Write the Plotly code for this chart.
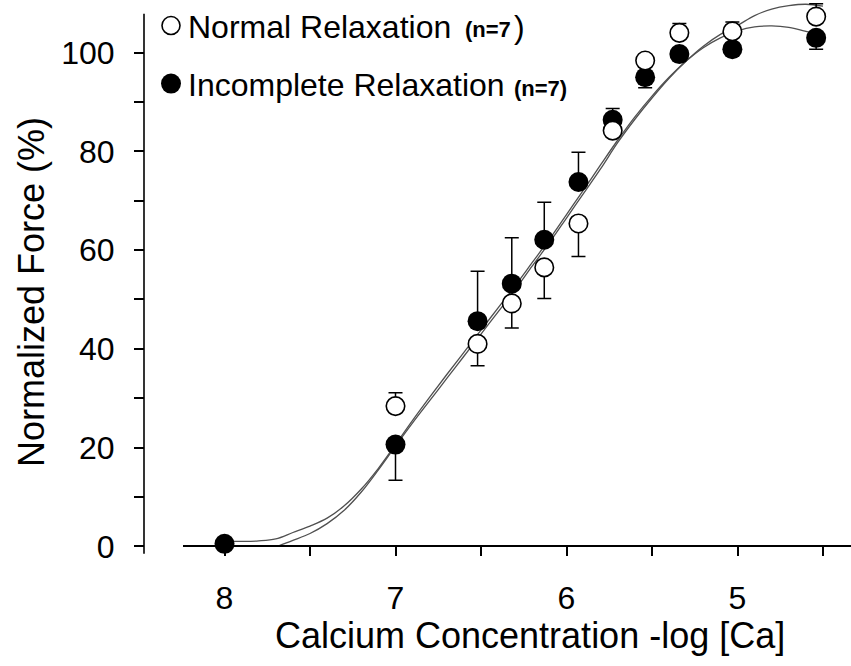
import plotly.graph_objects as go

# ---------------- data ----------------
normal_x = [7.0, 6.52, 6.32, 6.13, 5.93, 5.73, 5.54, 5.34, 5.03, 4.54]
normal_y = [28.4, 41.0, 49.2, 56.5, 65.4, 84.2, 98.4, 104.0, 104.3, 107.3]
normal_err_up = [2.7, 0, 0, 0, 0, 0, 0, 1.9, 1.9, 2.6]
normal_err_dn = [0, 4.4, 5.0, 6.3, 6.7, 0, 0, 0, 0, 0]

incomplete_x = [8.0, 7.0, 6.52, 6.32, 6.13, 5.93, 5.73, 5.54, 5.34, 5.03, 4.54]
incomplete_y = [0.5, 20.6, 45.6, 53.2, 62.1, 73.8, 86.4, 95.0, 99.7, 100.7, 103.0]
incomplete_err_up = [0, 0, 10.1, 9.3, 7.6, 6.0, 2.3, 0, 0, 0, 0]
incomplete_err_dn = [0, 7.2, 0, 0, 0, 0, 0, 2.1, 0, 0, 2.3]

# fitted curves
normal_fit_x = [7.69, 7.6, 7.5, 7.4, 7.3, 7.2, 7.1, 7.0, 6.9, 6.8, 6.7, 6.6, 6.5, 6.4,
                6.3, 6.2, 6.1, 6.0, 5.9, 5.8, 5.7, 5.6, 5.5, 5.4, 5.3, 5.2, 5.1, 5.0,
                4.9, 4.8, 4.7, 4.6, 4.5]
normal_fit_y = [0.0, 1.2, 2.6, 4.6, 7.3, 11.0, 15.5, 20.3, 25.0, 29.5, 34.0, 38.5, 43.0, 47.5,
                52.0, 56.8, 61.5, 66.5, 71.5, 76.5, 81.8, 86.5, 90.8, 94.8, 98.3, 101.3, 103.7, 105.5,
                107.5, 108.8, 109.5, 109.8, 109.4]

incomplete_fit_x = [8.0, 7.9, 7.8, 7.7, 7.6, 7.5, 7.4, 7.3, 7.2, 7.1, 7.0, 6.9, 6.8, 6.7,
                    6.6, 6.5, 6.4, 6.3, 6.2, 6.1, 6.0, 5.9, 5.8, 5.7, 5.6, 5.5, 5.4, 5.3,
                    5.2, 5.1, 5.0, 4.9, 4.8, 4.7, 4.6, 4.5]
incomplete_fit_y = [1.0, 1.0, 1.1, 1.5, 2.8, 4.1, 5.7, 8.2, 11.6, 15.8, 20.6, 25.5, 30.2, 34.8,
                    39.3, 43.8, 48.3, 52.8, 57.5, 62.2, 67.2, 72.2, 77.3, 82.3, 87.0, 91.2, 95.0, 98.3,
                    101.0, 103.0, 104.4, 105.2, 105.4, 105.1, 104.3, 103.3]

x_tickvals = [8, 7.5, 7, 6.5, 6, 5.5, 5, 4.5]
x_ticktext = ["8", "", "7", "", "6", "", "5", ""]
y_tickvals = [0, 10, 20, 30, 40, 50, 60, 70, 80, 90, 100]
y_ticktext = ["0", "", "20", "", "40", "", "60", "", "80", "", "100"]

# ---------------- layout helpers (pixels -> paper) ----------------
W, H = 851, 666
def px(x):
    return x / W
def py(y):
    return 1 - y / H

FONT = "Liberation Sans, Arial, Helvetica, sans-serif"
CURVE = "#505050"

fig = go.Figure()

fig.add_trace(go.Scatter(x=normal_fit_x, y=normal_fit_y, mode="lines", line_shape="spline",
                         line=dict(color=CURVE, width=1.3), showlegend=False, hoverinfo="skip"))
fig.add_trace(go.Scatter(x=incomplete_fit_x, y=incomplete_fit_y, mode="lines", line_shape="spline",
                         line=dict(color=CURVE, width=1.3), showlegend=False, hoverinfo="skip"))

fig.add_trace(go.Scatter(
    x=incomplete_x, y=incomplete_y, mode="markers", name="Incomplete Relaxation",
    marker=dict(symbol="circle", size=20, color="black", line=dict(width=0)),
    error_y=dict(type="data", symmetric=False, array=incomplete_err_up,
                 arrayminus=incomplete_err_dn, color="black", thickness=1.5, width=7),
    showlegend=False, cliponaxis=False))

fig.add_trace(go.Scatter(
    x=normal_x, y=normal_y, mode="markers", name="Normal Relaxation",
    marker=dict(symbol="circle", size=18.5, color="white", line=dict(width=1.6, color="black")),
    error_y=dict(type="data", symmetric=False, array=normal_err_up,
                 arrayminus=normal_err_dn, color="black", thickness=1.5, width=7),
    showlegend=False, cliponaxis=False))

# axes geometry (pixels measured on the reference)
y0_px, y_per = 555.5, 5.02
x8_px, x_per = 224.5, 171.0
x_left_px, x_right_px = 183, 851
y_bot_px, y_top_px = 563, 0

yr = [(y0_px - y_bot_px) / y_per, (y0_px - y_top_px) / y_per]
xr = [8 + (x8_px - x_left_px) / x_per, 8 - (x_right_px - x8_px) / x_per]

fig.update_layout(
    width=W, height=H,
    margin=dict(l=0, r=0, t=0, b=0),
    paper_bgcolor="white", plot_bgcolor="white",
    font=dict(family=FONT, color="black"),
    xaxis=dict(
        domain=[px(x_left_px), 1.0], range=xr, anchor="free", position=py(y0_px),
        showline=True, linecolor="black", linewidth=1.6, showgrid=False, zeroline=False,
        ticks="outside", ticklen=9, tickwidth=1.6, tickcolor="black",
        tickvals=x_tickvals, ticktext=x_ticktext,
        tickfont=dict(family=FONT, size=32, color="black"), ticklabelstandoff=14,
    ),
    yaxis=dict(
        domain=[py(y_bot_px), py(y_top_px)], range=yr, anchor="free", position=px(144),
        showline=False, showgrid=False, zeroline=False,
        ticks="outside", ticklen=10, tickwidth=1.6, tickcolor="black",
        tickvals=y_tickvals, ticktext=y_ticktext,
        tickfont=dict(family=FONT, size=32, color="black"), ticklabelstandoff=13,
    ),
)

shapes = [
    # y axis line (runs past 100 and slightly below 0, as in the reference)
    dict(type="line", xref="paper", yref="paper", x0=px(144), x1=px(144), y0=py(563), y1=py(14),
         line=dict(color="black", width=1.6)),
    # legend symbols
    dict(type="circle", xref="paper", yref="paper", xsizemode="pixel", ysizemode="pixel",
         xanchor=px(171), yanchor=py(26), x0=-9, x1=9, y0=-9, y1=9,
         fillcolor="white", line=dict(color="black", width=1.6)),
    dict(type="circle", xref="paper", yref="paper", xsizemode="pixel", ysizemode="pixel",
         xanchor=px(171), yanchor=py(85), x0=-10, x1=10, y0=-10, y1=10,
         fillcolor="black", line=dict(color="black", width=0)),
]
fig.update_layout(shapes=shapes)

ann = [
    dict(text="Normalized Force (%)", x=px(31), y=py(297), textangle=-90,
         font=dict(family=FONT, size=36, color="black")),
    dict(text="Calcium Concentration -log [Ca]", x=px(529.5), y=py(646),
         font=dict(family=FONT, size=36, color="black")),
    dict(text="Normal Relaxation", x=px(186), y=py(27), xanchor="left",
         font=dict(family=FONT, size=32, color="black")),
    dict(text="<b>(n=7</b>", x=px(463), y=py(30), xanchor="left",
         font=dict(family=FONT, size=22, color="black")),
    dict(text=")", x=px(512), y=py(27), xanchor="left",
         font=dict(family=FONT, size=32, color="black")),
    dict(text="Incomplete Relaxation", x=px(186), y=py(86), xanchor="left",
         font=dict(family=FONT, size=32, color="black")),
    dict(text="<b>(n=7)</b>", x=px(512), y=py(90), xanchor="left",
         font=dict(family=FONT, size=22, color="black")),
]
for a in ann:
    a.setdefault("xanchor", "center")
    a.update(xref="paper", yref="paper", yanchor="middle", showarrow=False)
fig.update_layout(annotations=ann)

fig.write_html("out.html", config={"displayModeBar": False},
               post_script="document.body.style.margin='0';")
